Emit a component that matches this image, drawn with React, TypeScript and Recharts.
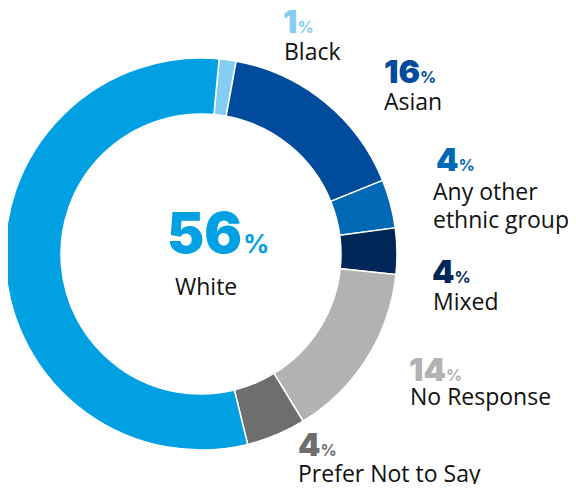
import { PieChart, Pie, Cell } from 'recharts';

// categories in clockwise order starting at the top
const groups = ['Black', 'Asian', 'Any other ethnic group', 'Mixed', 'No Response', 'Prefer Not to Say', 'White'];
// arc shares as measured from the ring
const shares = [1.4, 16, 4, 3.8, 14.6, 4.9, 55.3];
// percentages printed next to each group
const printed = [1, 16, 4, 4, 14, 4, 56];
const colors = ['#84cef3', '#004b9b', '#0068b4', '#002758', '#b2b2b2', '#6e6e6e', '#00a0e2'];

const data = groups.map((name, i) => ({ name, value: shares[i] }));

// where each label block sits: number baseline, label start, label baselines
const layout = [
  { x: 283, y: 33, lx: 284, lines: ['Black'], ly: 60, size: 32 },
  { x: 384, y: 83, lx: 384, lines: ['Asian'], ly: 110, size: 32 },
  { x: 436, y: 171, lx: 433, lines: ['Any other', 'ethnic group'], ly: 200, size: 32 },
  { x: 432, y: 283, lx: 433, lines: ['Mixed'], ly: 310, size: 32 },
  { x: 409, y: 381, lx: 410, lines: ['No Response'], ly: 405, size: 32 },
  { x: 298, y: 456, lx: 298, lines: ['Prefer Not to Say'], ly: 482, size: 32 },
  { x: 167, y: 253, lx: 175, lines: ['White'], ly: 295, size: 56 },
];

const numFont = 'Inter, "DejaVu Sans", sans-serif';
const textFont = '"Open Sans", "DejaVu Sans", sans-serif';

export default function App() {
  return (
    <div style={{ position: 'relative', width: 576, height: 492, margin: -8, background: '#fff' }}>
      <PieChart width={576} height={492} margin={{ top: 0, right: 0, bottom: 0, left: 0 }}>
        <Pie
          data={data}
          dataKey="value"
          nameKey="name"
          cx={201}
          cy={254}
          innerRadius={140}
          outerRadius={196}
          startAngle={84.7}
          endAngle={-275.3}
          stroke="#ffffff"
          strokeWidth={1.5}
          isAnimationActive={false}
        >
          {data.map((d, i) => (
            <Cell key={d.name} fill={colors[i]} />
          ))}
        </Pie>
      </PieChart>
      <svg width={576} height={492} style={{ position: 'absolute', left: 0, top: 0, pointerEvents: 'none' }}>
        {layout.map((l, i) => (
          <g key={groups[i]}>
            <text x={l.x} y={l.y} fill={colors[i]} fontFamily={numFont} fontWeight={900} fontSize={l.size}>
              {printed[i]}
              <tspan dx={l.size === 56 ? 1 : 0} fontSize={l.size === 56 ? 26 : 16} fontWeight={700}>%</tspan>
            </text>
            {l.lines.map((t, j) => (
              <text
                key={t}
                x={l.lx}
                y={l.ly + j * 28}
                fill="#111111"
                fontFamily={textFont}
                fontWeight={500}
                fontSize={23}
              >
                {t}
              </text>
            ))}
          </g>
        ))}
      </svg>
    </div>
  );
}
